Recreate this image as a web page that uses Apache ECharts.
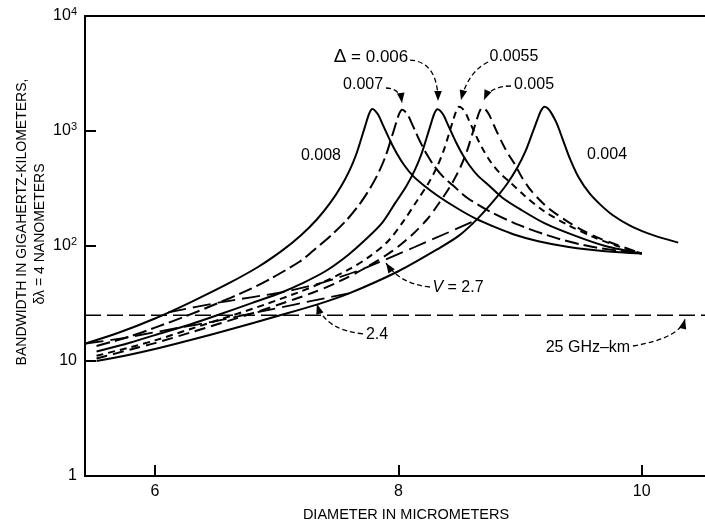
<!DOCTYPE html>
<html><head><meta charset="utf-8">
<script src="https://cdn.jsdelivr.net/npm/echarts@6/dist/echarts.min.js"></script>
<style>html,body{margin:0;padding:0;background:#fff}#c{width:705px;height:527px}</style>
</head><body><div id="c"></div>
<script>
// ---------- data (diameter in micrometers, bandwidth in GHz-km) ----------
const xTickValues = [6, 8, 10];
const yTickLabels = {1: '1', 10: '10', 100: '10{s|2}', 1000: '10{s|3}', 10000: '10{s|4}'};

const delta008 = [[5.43,14.2],[5.7,17.6],[6.0,23.4],[6.3,32.7],[6.6,47],[6.85,66],[7.05,92],[7.2,124],[7.33,170],[7.44,237],[7.53,331],[7.6,457],[7.655,631],[7.7,891],[7.735,1175],[7.76,1413],[7.785,1550],[7.81,1496],[7.84,1349],[7.87,1148],[7.9,977],[7.94,794],[7.99,631],[8.05,501],[8.12,407],[8.2,343],[8.32,275],[8.48,214],[8.64,172],[8.8,145],[8.95,126],[9.15,110],[9.4,98],[9.7,90],[10.0,86]];
const delta007 = [[5.52,13.5],[5.8,16.4],[6.0,19.5],[6.26,24.7],[6.5,31.3],[6.75,40.7],[6.94,51.3],[7.19,73.3],[7.3,91],[7.445,123],[7.575,168],[7.685,234],[7.775,327],[7.845,452],[7.9,624],[7.945,881],[7.98,1161],[8.005,1396],[8.03,1531],[8.055,1479],[8.085,1334],[8.115,1135],[8.145,966],[8.185,785],[8.235,624],[8.295,495],[8.365,403],[8.445,339],[8.565,263],[8.75,200],[9.0,151],[9.3,117],[9.6,98],[10.0,86]];
const delta006 = [[5.52,12.1],[5.8,14.5],[6.0,16.8],[6.3,21],[6.51,25],[6.8,32],[7.05,39.8],[7.2,46.8],[7.4,60.3],[7.585,83.2],[7.735,115],[7.865,158],[7.975,237],[8.065,331],[8.135,457],[8.19,631],[8.235,891],[8.27,1175],[8.295,1413],[8.32,1549],[8.345,1496],[8.375,1349],[8.405,1148],[8.435,977],[8.475,794],[8.525,631],[8.585,501],[8.655,407],[8.735,343],[8.855,263],[9.0,209],[9.2,158],[9.45,123],[9.7,100],[10.0,86]];
const delta0055 = [[5.52,11.1],[5.8,13.2],[6.0,15.1],[6.3,19.1],[6.64,25],[6.9,30.9],[7.2,40.3],[7.37,47.9],[7.6,63.1],[7.765,81.3],[7.915,110],[8.045,166],[8.155,249],[8.245,348],[8.315,481],[8.37,664],[8.415,938],[8.45,1236],[8.475,1486],[8.5,1629],[8.525,1574],[8.555,1419],[8.585,1208],[8.615,1028],[8.655,836],[8.705,664],[8.765,527],[8.835,429],[8.915,361],[9.035,275],[9.2,200],[9.4,151],[9.6,120],[9.8,100],[10.0,86]];
const delta005 = [[5.52,10.5],[5.8,12.6],[6.0,14.3],[6.3,17.8],[6.75,25],[7.0,30.5],[7.3,39.4],[7.5,48.4],[7.73,64.6],[7.955,91.2],[8.105,123],[8.235,170],[8.345,245],[8.435,342],[8.505,472],[8.56,652],[8.605,920],[8.64,1213],[8.665,1459],[8.69,1600],[8.715,1545],[8.745,1393],[8.775,1186],[8.805,1009],[8.845,820],[8.895,652],[8.955,518],[9.025,380],[9.1,295],[9.22,219],[9.35,174],[9.49,141],[9.65,117],[9.8,102],[10.0,86]];
const delta004 = [[5.52,10],[5.8,11.4],[6.0,12.7],[6.3,15.3],[6.6,18.6],[7.0,24.5],[7.33,30.9],[7.6,38.9],[8.0,60.3],[8.318,93.3],[8.498,123],[8.654,174],[8.786,249],[8.894,348],[8.978,481],[9.044,664],[9.098,938],[9.14,1236],[9.17,1486],[9.2,1629],[9.225,1585],[9.255,1445],[9.3,1175],[9.35,851],[9.41,575],[9.48,398],[9.57,288],[9.66,229],[9.76,186],[9.9,151],[10.04,130],[10.17,117],[10.3,107]];
const vEquals27 = [[6.11,26.5],[6.53,32.3],[7.05,39.8],[7.37,47.9],[7.73,64.6],[8.63,166]];
const vEquals24 = [[5.43,14.2],[5.75,15.9],[6.21,19.6],[6.48,22],[6.8,26],[7.6,38.9]];
const limitLevel = 25;
const xRange = [5.425, 10.52];

// ---------- annotations (text and arrow anchors in data coordinates) ----------
const annotations = [
  {text: '{d|\u0394} = 0.006', at: [7.775, 4401], from: [8.096, 4141], ctrl: [8.326, 3981], to: [8.326, 1824]},
  {text: '0.007', at: [7.71, 2512], from: [7.898, 2366], ctrl: [8.014, 2366], to: [8.03, 1752]},
  {text: '0.0055', at: [8.95, 4401], from: [8.737, 3981], ctrl: [8.572, 3260], to: [8.515, 1860]},
  {text: '0.005', at: [9.115, 2512], from: [8.926, 2461], ctrl: [8.753, 2461], to: [8.704, 1860]},
  {text: '0.008', at: [7.364, 606]},
  {text: '0.004', at: [9.715, 619]},
  {text: '{i|V} = 2.7', at: [8.49, 43.1], from: [8.26, 44], ctrl: [8.014, 46.7], to: [7.899, 71.1]},
  {text: '2.4', at: [7.825, 16.8], from: [7.71, 17.2], ctrl: [7.397, 18.6], to: [7.331, 31.3]},
  {text: '25 GHz\u2013km', at: [9.558, 13.2], from: [9.928, 13.5], ctrl: [10.315, 15.85], to: [10.356, 23.2]}
];

const FONT = '"Liberation Sans", Arial, sans-serif';
const chart = echarts.init(document.getElementById('c'), null, {renderer: 'canvas'});

function curve(name, data, dash, width) {
  return {name, type: 'line', data, showSymbol: false, smooth: 0.3, silent: true,
    lineStyle: {color: '#000', width: width || 2, type: dash || 'solid', cap: 'butt', join: 'round'}, z: 3};
}

const option = {
  animation: false,
  backgroundColor: '#fff',
  grid: {left: 85, right: 0, top: 16, bottom: 51},
  xAxis: [{
    type: 'value', min: xRange[0], max: xRange[1],
    axisLine: {lineStyle: {color: '#000', width: 2}},
    axisTick: {customValues: xTickValues, inside: true, length: 11, lineStyle: {color: '#000', width: 2}},
    axisLabel: {customValues: xTickValues, color: '#000', fontSize: 16, fontFamily: FONT, margin: 8},
    splitLine: {show: false}
  }, {
    type: 'value', position: 'top', min: xRange[0], max: xRange[1],
    axisLine: {show: true, lineStyle: {color: '#000', width: 2}},
    axisTick: {show: false}, axisLabel: {show: false}, splitLine: {show: false}
  }],
  yAxis: {
    type: 'log', logBase: 10, min: 1, max: 10000,
    axisLine: {show: true, lineStyle: {color: '#000', width: 2}},
    axisTick: {inside: true, length: 11, lineStyle: {color: '#000', width: 2}},
    axisLabel: {
      formatter: v => yTickLabels[Math.round(v)] || '',
      color: '#000', fontSize: 16, fontFamily: FONT, margin: 8,
      rich: {s: {fontSize: 11, fontFamily: FONT, color: '#000', verticalAlign: 'bottom', padding: [0, 0, 9, 0]}}
    },
    minorTick: {show: false}, splitLine: {show: false}
  },
  series: [
    curve('0.008', delta008, 'solid'),
    curve('0.007', delta007, [14, 5]),
    curve('0.006', delta006, 'solid'),
    curve('0.0055', delta0055, [7, 5]),
    curve('0.005', delta005, [11, 6]),
    curve('0.004', delta004, 'solid'),
    curve('V=2.7', vEquals27, [18, 7], 1.8),
    curve('V=2.4', vEquals24, [18, 7], 1.8),
    {name: '25 GHz-km', type: 'line', showSymbol: false, silent: true,
      data: [[xRange[0], limitLevel], [xRange[1], limitLevel]],
      lineStyle: {color: '#000', width: 1.6, type: [16, 6]}, z: 2}
  ]
};
chart.setOption(option);

const P = p => chart.convertToPixel({xAxisIndex: 0, yAxisIndex: 0}, p);
const graphics = [];
const richStyles = {
  d: {fontSize: 19, fontFamily: FONT, fill: '#000'},
  i: {fontSize: 16, fontFamily: FONT, fontStyle: 'italic', fill: '#000'}
};
annotations.forEach(a => {
  const t = P(a.at);
  graphics.push({type: 'text', x: t[0], y: t[1], silent: true, z: 10,
    style: {text: a.text, fill: '#000', fontSize: a.text.indexOf('\u0394') >= 0 ? 17 : 16, fontFamily: FONT,
      align: 'center', verticalAlign: 'middle', rich: richStyles}});
  if (a.from) {
    const f = P(a.from), c = P(a.ctrl), e = P(a.to);
    graphics.push({type: 'bezierCurve', silent: true, z: 10,
      shape: {x1: f[0], y1: f[1], cpx1: c[0], cpy1: c[1], x2: e[0], y2: e[1]},
      style: {stroke: '#000', lineWidth: 1.3, lineDash: [5, 3], fill: null}});
    let ux = e[0] - c[0], uy = e[1] - c[1];
    const len = Math.hypot(ux, uy) || 1; ux /= len; uy /= len;
    const L = 10, W = 3.8;
    graphics.push({type: 'polygon', silent: true, z: 10,
      shape: {points: [[e[0], e[1]], [e[0] - L * ux + W * uy, e[1] - L * uy - W * ux], [e[0] - L * ux - W * uy, e[1] - L * uy + W * ux]]},
      style: {fill: '#000'}});
  }
});
// axis titles
graphics.push({type: 'text', x: 22, y: 222, rotation: Math.PI / 2, silent: true,
  style: {text: 'BANDWIDTH IN GIGAHERTZ-KILOMETERS,', fill: '#000', fontSize: 14, fontFamily: FONT, align: 'center', verticalAlign: 'middle'}});
graphics.push({type: 'text', x: 40, y: 234, rotation: Math.PI / 2, silent: true,
  style: {text: '\u03B4\u03BB = 4 NANOMETERS', fill: '#000', fontSize: 14, fontFamily: FONT, align: 'center', verticalAlign: 'middle'}});
graphics.push({type: 'text', x: 406, y: 515, silent: true,
  style: {text: 'DIAMETER IN MICROMETERS', fill: '#000', fontSize: 14.5, fontFamily: FONT, align: 'center', verticalAlign: 'middle'}});
chart.setOption({graphic: graphics});
</script>
</body></html>
